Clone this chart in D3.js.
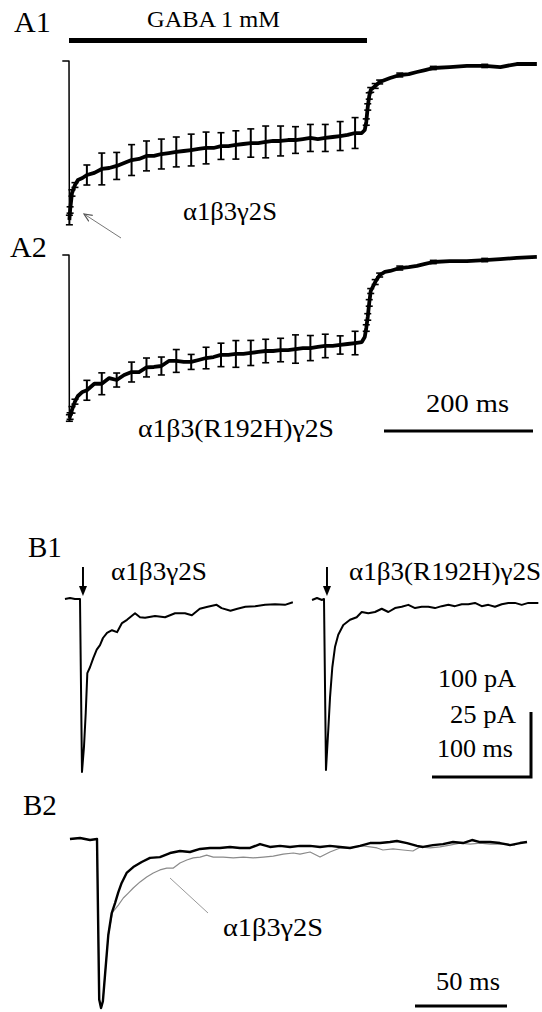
<!DOCTYPE html>
<html>
<head>
<meta charset="utf-8">
<script src="https://cdn.jsdelivr.net/npm/d3@7"></script>
<style>
body { margin: 0; background: #fff; }
</style>
</head>
<body>
<svg class="chart" width="542" height="1012"></svg>
<script>
// ---- A: normalized GABA currents (mean, sem), time in ms ----
var timeA = [-9, 0, 0.5, 1.5, 4, 8, 12, 18,
    24, 34, 44, 54, 64, 74, 84, 94, 104, 114, 124, 134, 144, 154, 164, 174, 184, 194,
    204, 214, 224, 234, 244, 254, 264, 274, 284, 294, 304, 314, 324, 334, 344, 354, 364, 374, 384,
    393, 397, 399, 401, 403, 405, 411, 417, 424, 431, 444, 456, 467, 478, 489, 511, 534, 558, 579, 601, 628];
var meanA1 = [0, 0, -1.0, -0.937, -0.83, -0.78, -0.748, -0.736,
    -0.717, -0.704, -0.679, -0.673, -0.660, -0.642, -0.623, -0.616, -0.597, -0.597, -0.585, -0.579, -0.572, -0.566, -0.560, -0.553, -0.547, -0.547,
    -0.535, -0.535, -0.528, -0.522, -0.516, -0.516, -0.509, -0.503, -0.503, -0.497, -0.497, -0.491, -0.484, -0.491, -0.484, -0.478, -0.472, -0.465, -0.453,
    -0.453, -0.434, -0.384, -0.289, -0.22, -0.182, -0.157, -0.132, -0.119, -0.107, -0.088, -0.082, -0.069, -0.057, -0.044, -0.038, -0.031, -0.031, -0.038, -0.019, -0.019];
var meanA2 = [0, 0, -1.0, -0.988, -0.95, -0.90, -0.865, -0.84,
    -0.83, -0.79, -0.79, -0.755, -0.767, -0.736, -0.718, -0.718, -0.69, -0.687, -0.681, -0.65, -0.65, -0.656, -0.656, -0.644, -0.632, -0.626,
    -0.613, -0.613, -0.607, -0.607, -0.601, -0.595, -0.589, -0.589, -0.583, -0.583, -0.577, -0.571, -0.571, -0.564, -0.558, -0.558, -0.552, -0.546, -0.54,
    -0.534, -0.503, -0.448, -0.38, -0.294, -0.221, -0.166, -0.123, -0.104, -0.098, -0.08, -0.074, -0.067, -0.055, -0.043, -0.037, -0.037, -0.031, -0.025, -0.018, -0.012];
var errTimesA = [0.5, 1.5, 4, 8,
    24, 44, 64, 84, 104, 124, 144, 164, 184, 204, 224, 244, 264, 284, 304, 324, 344, 364, 384,
    399, 401, 403, 405, 411, 417, 444, 489, 558];
var semA1 = [0.03, 0.02, 0.02, 0.015,
    0.063, 0.10, 0.085, 0.097, 0.094, 0.094, 0.094, 0.10, 0.10, 0.084, 0.089, 0.089, 0.10, 0.094, 0.084, 0.085, 0.085, 0.091, 0.097,
    0.02, 0.02, 0.02, 0.015, 0.015, 0.012, 0.012, 0.01, 0.01];
var semA2 = [0.02, 0.02, 0.02, 0.015,
    0.061, 0.067, 0.043, 0.061, 0.058, 0.055, 0.07, 0.046, 0.066, 0.072, 0.082, 0.077, 0.072, 0.072, 0.087, 0.077, 0.072, 0.056, 0.072,
    0.02, 0.02, 0.02, 0.015, 0.015, 0.012, 0.012, 0.01, 0.01];
var gabaOn = [0, 400]; // ms

// ---- B1: single traces, pA vs ms ----
var timeB1L = [-15.2, -10.1, -5.1, 0, 2.0, 4.0, 5.8, 7.4, 10.1, 13.4, 16.9, 20.2, 23.2, 27.3, 32.3, 37.4, 42.4, 47.5,
    55.6, 60.6, 65.7, 75.8, 85.9, 96, 106, 113, 121, 129, 138, 143, 152, 159, 167, 177, 187, 197, 207, 215];
var currB1L = [0, 1.5, 0, 0, -266, -228, -175, -114, -105, -91, -78, -71, -60, -52, -48, -51, -37, -32,
    -22, -28, -29, -26, -28, -22, -22, -25, -15, -12, -9, -14, -18, -15, -12, -11, -9, -8, -9, -5];
var timeB1R = [-12.1, -7.1, -2, 0, 2, 4.3, 6.1, 8.4, 11.1, 14.4, 19.5, 26.3, 33, 38.1, 44.7, 51.5, 58.3, 65, 71.7,
    78.5, 85.2, 92, 98.7, 105.4, 112.1, 118.9, 125.6, 132.3, 139.1, 145.8, 152.5, 159.3, 166, 172.7, 179.5,
    186.2, 192.9, 199.7, 206.4, 216.5];
var currB1R = [-1.5, 1.5, -1.5, 0, -263, -202, -151, -105, -74, -55, -40, -32, -28, -20, -22, -20, -15, -20, -14,
    -12, -9, -14, -12, -12, -14, -11, -9, -11, -8, -8, -6, -11, -9, -12, -8,
    -6, -6, -9, -6, -6];

// ---- B2: normalized overlay, ms ----
var timeB2 = [-14.7, -9.2, -3.8, 0, 1.2, 2.2, 3.2, 4.35, 6.14, 8.0, 9.8, 11.6, 13.4, 16.1, 19.7, 24.3, 28.8, 34.2,
    39.7, 45.1, 50.5, 56, 61.4, 66.8, 72.3, 77.7, 83.2, 88.6, 94, 99.5, 104.9, 110.3, 115.8, 121.2, 126.6,
    132.1, 137.5, 142.9, 148.4, 153.8, 159.2, 163, 168.5, 173.9, 177.2, 182.6, 188, 193.5, 198.9, 203.8,
    208.2, 213.6, 219, 224.5, 229.9, 233.7];
var mutB2 = [0, 0.006, -0.006, 0, -0.95, -1.0, -0.96, -0.805, -0.568, -0.438, -0.379, -0.314, -0.26, -0.201, -0.166, -0.136, -0.112, -0.107,
    -0.083, -0.071, -0.077, -0.059, -0.053, -0.053, -0.047, -0.053, -0.053, -0.03, -0.047, -0.041, -0.047, -0.041, -0.041, -0.047, -0.041,
    -0.047, -0.053, -0.041, -0.024, -0.024, -0.018, -0.012, -0.024, -0.041, -0.047, -0.036, -0.03, -0.018, -0.024, -0.006,
    -0.018, -0.018, -0.024, -0.036, -0.024, -0.018];
var timeB2w = [-14.7, -9.2, -3.8, 0, 1.2, 2.2, 3.2, 4.35, 6.14, 8.5, 11.6, 14.3, 17, 19.7, 23.4, 27, 30.6, 34.2, 37.9,
    41.5, 45.1, 48.8, 52.3, 56, 59.6, 63.2, 68.6, 74.1, 79.5, 84.9, 90.4, 95.8, 101.2, 106.7, 110.3, 115.8,
    121.2, 126.6, 132.1, 137.5, 144.6, 152.2, 155.4, 160.9, 166.3, 171.7, 175.5, 181, 186.4, 191.8, 197.3,
    202.7, 208.2, 213.6, 221.7, 227.2];
var wtB2 = [0, 0.006, -0.006, 0, -0.95, -1.0, -0.96, -0.805, -0.568, -0.432, -0.391, -0.349, -0.32, -0.29, -0.254, -0.225, -0.201, -0.183, -0.172,
    -0.172, -0.142, -0.124, -0.112, -0.107, -0.095, -0.107, -0.107, -0.112, -0.107, -0.112, -0.107, -0.101, -0.089, -0.083, -0.089, -0.077,
    -0.107, -0.077, -0.053, -0.053, -0.041, -0.053, -0.065, -0.059, -0.065, -0.071, -0.047, -0.053, -0.047, -0.036, -0.024,
    -0.03, -0.024, -0.03, -0.03, -0.036];

var wtName = "α1β3γ2S";
var mutName = "α1β3(R192H)γ2S";
var serif = "'Liberation Serif', 'DejaVu Serif', 'Times New Roman', serif";

var svg = d3.select(".chart");

// scales
var xA = d3.scaleLinear().domain([0, 400]).range([69, 367]);
var yA1 = d3.scaleLinear().domain([-1, 0]).range([220, 61]);
var yA2 = d3.scaleLinear().domain([-1, 0]).range([418, 255]);
var xB1L = d3.scaleLinear().domain([0, 100]).range([80, 179]);
var xB1R = d3.scaleLinear().domain([0, 100]).range([324, 423]);
var yB1 = d3.scaleLinear().domain([-100, 0]).range([664, 599]);
var xB2 = d3.scaleLinear().domain([0, 50]).range([97, 189]);
var yB2 = d3.scaleLinear().domain([-1, 0]).range([1008, 839]);

function zip(ts, vs) {
    return ts.map(function(t, i) { return [t, vs[i]]; });
}

function drawTrace(pts, x, y, width, color) {
    var line = d3.line()
        .x(function(d) { return x(d[0]); })
        .y(function(d) { return y(d[1]); });
    svg.append("path")
        .datum(pts)
        .attr("d", line)
        .style("fill", "none")
        .style("stroke", color)
        .style("stroke-width", width)
        .style("stroke-linejoin", "round");
}

function drawPanelA(mean, sem, y) {
    var pts = zip(timeA, mean);
    // baseline tick and drop drawn thin, rest of mean trace thick
    drawTrace(pts.slice(0, 3), xA, y, 1.5, "#000");
    drawTrace(pts.slice(2), xA, y, 3.8, "#000");

    var bars = errTimesA.map(function(t, i) {
        var m = mean[timeA.indexOf(t)];
        return { t: t, lo: m - sem[i], hi: m + sem[i] };
    });
    var g = svg.append("g");
    g.selectAll(".eb").data(bars).enter().append("line")
        .attr("x1", function(d) { return xA(d.t); })
        .attr("x2", function(d) { return xA(d.t); })
        .attr("y1", function(d) { return y(d.lo); })
        .attr("y2", function(d) { return y(d.hi); })
        .style("stroke", "#000").style("stroke-width", 2);
    ["lo", "hi"].forEach(function(k) {
        g.selectAll(".cap" + k).data(bars).enter().append("line")
            .attr("x1", function(d) { return xA(d.t) - 3.5; })
            .attr("x2", function(d) { return xA(d.t) + 3.5; })
            .attr("y1", function(d) { return y(d[k]); })
            .attr("y2", function(d) { return y(d[k]); })
            .style("stroke", "#000").style("stroke-width", 1.6);
    });
}

// w: width the text takes in the reference
function label(txt, x, y, size, anchor, w) {
    var t = svg.append("text")
        .attr("x", x).attr("y", y)
        .attr("font-family", serif)
        .attr("font-size", size + "px")
        .attr("fill", "#000")
        .attr("text-anchor", anchor || "start")
        .text(txt);
    if (w) t.attr("textLength", w).attr("lengthAdjust", "spacingAndGlyphs");
}

function hbar(x1, x2, y, w) {
    svg.append("line").attr("x1", x1).attr("x2", x2).attr("y1", y).attr("y2", y)
        .style("stroke", "#000").style("stroke-width", w);
}

// ---- panel A ----
label("A1", 14, 32, 30);
label("GABA 1 mM", 147, 27, 24, "start", 133);
svg.append("rect")
    .attr("x", xA(gabaOn[0])).attr("width", xA(gabaOn[1]) - xA(gabaOn[0]))
    .attr("y", 38).attr("height", 5).style("fill", "#000");

drawPanelA(meanA1, semA1, yA1);
label(wtName, 183, 220, 25, "start", 94);

// pointer arrow to the peak
svg.append("defs").append("marker")
    .attr("id", "thinArrow").attr("viewBox", "0 0 10 10")
    .attr("refX", 9).attr("refY", 5)
    .attr("markerWidth", 9).attr("markerHeight", 9)
    .attr("markerUnits", "userSpaceOnUse")
    .attr("orient", "auto")
    .append("path").attr("d", "M0,1 L9,5 L0,9")
    .style("fill", "none").style("stroke", "#555").style("stroke-width", 1.3);
svg.append("line")
    .attr("x1", 121).attr("y1", 238).attr("x2", 84).attr("y2", 214)
    .style("stroke", "#777").style("stroke-width", 1)
    .attr("marker-end", "url(#thinArrow)");

label("A2", 10, 257, 30);
drawPanelA(meanA2, semA2, yA2);
label(mutName, 138, 437, 25, "start", 196);

label("200 ms", 426, 412, 25, "start", 83);
hbar(384, 384 + xA(200) - xA(0), 431, 3);

// ---- panel B1 ----
label("B1", 28, 557, 29);
drawTrace(zip(timeB1L, currB1L), xB1L, yB1, 2, "#000");
drawTrace(zip(timeB1R, currB1R), xB1R, yB1, 2, "#000");

function stimArrow(x) {
    svg.append("line").attr("x1", x).attr("x2", x).attr("y1", 567).attr("y2", 588)
        .style("stroke", "#000").style("stroke-width", 2);
    svg.append("path")
        .attr("d", "M" + (x - 4) + ",586 L" + (x + 4) + ",586 L" + x + ",596 Z")
        .style("fill", "#000");
}
stimArrow(xB1L(3));
stimArrow(xB1R(3));
label(wtName, 111, 580, 25, "start", 96);
label(mutName, 349, 580, 25, "start", 192);

label("100 pA", 516, 687, 25, "end", 78);
label("25 pA", 516, 723, 25, "end", 66);
label("100 ms", 513, 757, 25, "end", 76);
var sbX = 531, sbY = 777;
var sbH = yB1(-100) - yB1(0), sbW = xB1L(100) - xB1L(0);
svg.append("path")
    .attr("d", "M" + sbX + "," + (sbY - sbH) + " L" + sbX + "," + sbY + " L" + (sbX - sbW) + "," + sbY)
    .style("fill", "none").style("stroke", "#000").style("stroke-width", 3);

// ---- panel B2 ----
label("B2", 23, 815, 29);
drawTrace(zip(timeB2w, wtB2), xB2, yB2, 1.2, "#8a8a8a");
drawTrace(zip(timeB2, mutB2), xB2, yB2, 2.4, "#000");
svg.append("line")
    .attr("x1", 170).attr("y1", 878).attr("x2", 208).attr("y2", 913)
    .style("stroke", "#999").style("stroke-width", 1);
label(wtName, 223, 936, 25, "start", 100);
label("50 ms", 436, 990, 25, "start", 64);
hbar(415, 415 + xB2(50) - xB2(0), 1006, 3);
</script>
</body>
</html>
